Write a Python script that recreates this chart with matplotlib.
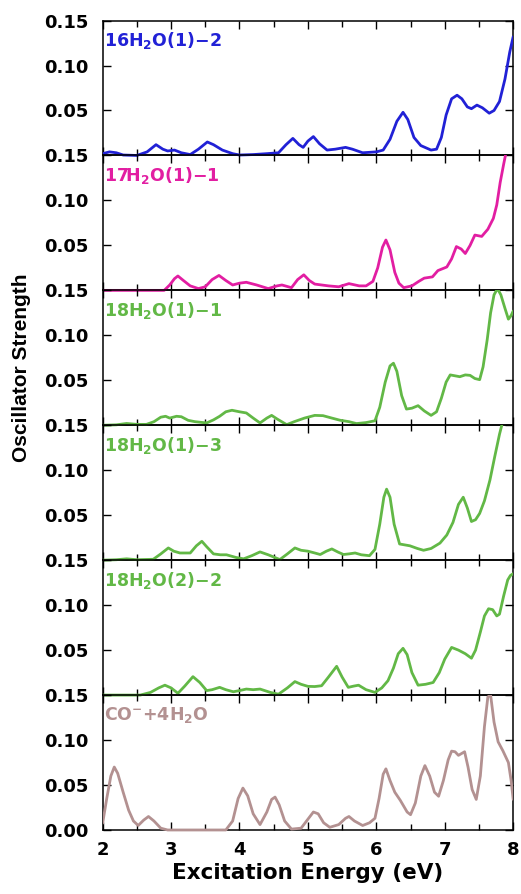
import numpy as np
import matplotlib.pyplot as plt
from matplotlib.ticker import MultipleLocator
from matplotlib.patches import Rectangle

plt.rcParams['font.family'] = ['DejaVu Sans']
plt.rcParams['font.weight'] = 'bold'
plt.rcParams['mathtext.fontset'] = 'custom'
plt.rcParams['mathtext.bf'] = 'DejaVu Sans:bold'
plt.rcParams['mathtext.rm'] = 'DejaVu Sans:bold'
plt.rcParams['mathtext.default'] = 'bf'

# panel labels and colours, top to bottom
labels = [r'16H$_2$O(1)−2', r'17H$_2$O(1)−1', r'18H$_2$O(1)−1',
          r'18H$_2$O(1)−3', r'18H$_2$O(2)−2', r'CO$^{-}$+4H$_2$O']
colors = ['#2121d6', '#e21ea2', '#62b846', '#62b846', '#62b846', '#b39191']

# spectra (energy in eV, oscillator strength)
x1 = [2.0, 2.1, 2.2, 2.3, 2.5, 2.65, 2.78, 2.88, 2.95, 3.05, 3.15, 3.28, 3.4,
      3.53, 3.62, 3.75, 3.9, 4.0, 4.2, 4.4, 4.57, 4.68, 4.78, 4.87, 4.93, 5.0,
      5.08, 5.17, 5.28, 5.4, 5.55, 5.65, 5.8, 6.0, 6.1, 6.2, 6.3, 6.39, 6.46,
      6.55, 6.65, 6.8, 6.88, 6.95, 7.02, 7.1, 7.18, 7.25, 7.33, 7.39, 7.47,
      7.55, 7.65, 7.72, 7.8, 7.88, 7.95, 8.0]
y1 = [0.002, 0.004, 0.003, 0.0005, 0.0, 0.004, 0.012, 0.007, 0.005, 0.006,
      0.003, 0.001, 0.007, 0.015, 0.012, 0.006, 0.002, 0.0005, 0.001, 0.002,
      0.003, 0.012, 0.019, 0.012, 0.009, 0.016, 0.021, 0.013, 0.006, 0.007,
      0.009, 0.007, 0.003, 0.004, 0.006, 0.018, 0.038, 0.048, 0.04, 0.02,
      0.011, 0.006, 0.007, 0.02, 0.045, 0.063, 0.067, 0.063, 0.054, 0.052,
      0.056, 0.053, 0.047, 0.05, 0.06, 0.085, 0.115, 0.132]

x2 = [2.0, 2.9, 2.98, 3.05, 3.1, 3.18, 3.28, 3.4, 3.5, 3.6, 3.7, 3.8, 3.9, 4.0,
      4.1, 4.25, 4.42, 4.55, 4.62, 4.76, 4.85, 4.94, 5.02, 5.1, 5.3, 5.45, 5.6,
      5.75, 5.85, 5.95, 6.02, 6.09, 6.14, 6.2, 6.27, 6.33, 6.4, 6.52, 6.62,
      6.7, 6.82, 6.9, 7.03, 7.1, 7.17, 7.24, 7.3, 7.37, 7.44, 7.54, 7.63, 7.71,
      7.76, 7.81, 7.86, 7.9, 8.0]
y2 = [0.0, 0.0, 0.006, 0.013, 0.016, 0.011, 0.005, 0.002, 0.004, 0.012,
      0.0166, 0.011, 0.006, 0.008, 0.009, 0.006, 0.002, 0.005, 0.006, 0.003,
      0.012, 0.0173, 0.011, 0.007, 0.005, 0.004, 0.0075, 0.005, 0.005, 0.01,
      0.025, 0.048, 0.056, 0.045, 0.02, 0.008, 0.003, 0.005, 0.01, 0.0136,
      0.015, 0.022, 0.026, 0.035, 0.0487, 0.046, 0.041, 0.05, 0.0615, 0.06,
      0.068, 0.08, 0.095, 0.12, 0.14, 0.155, 0.2]

x3 = [2.0, 2.2, 2.35, 2.5, 2.64, 2.75, 2.85, 2.92, 2.98, 3.08, 3.15, 3.25,
      3.35, 3.52, 3.62, 3.71, 3.8, 3.89, 4.0, 4.1, 4.2, 4.3, 4.4, 4.47, 4.55,
      4.69, 4.8, 4.95, 5.1, 5.22, 5.35, 5.47, 5.6, 5.71, 5.85, 5.98, 6.05,
      6.13, 6.2, 6.25, 6.3, 6.37, 6.44, 6.52, 6.61, 6.7, 6.8, 6.88, 6.95, 7.02,
      7.08, 7.15, 7.22, 7.3, 7.37, 7.44, 7.51, 7.56, 7.62, 7.67, 7.72, 7.77,
      7.82, 7.88, 7.93, 7.97, 8.0]
y3 = [0.0, 0.0005, 0.002, 0.001, 0.001, 0.004, 0.009, 0.01, 0.008, 0.01,
      0.0095, 0.0055, 0.004, 0.0026, 0.006, 0.01, 0.015, 0.0167, 0.015,
      0.0137, 0.008, 0.0026, 0.008, 0.011, 0.007, 0.0007, 0.004, 0.008, 0.011,
      0.0107, 0.008, 0.0056, 0.004, 0.0019, 0.003, 0.005, 0.02, 0.048, 0.066,
      0.069, 0.06, 0.033, 0.018, 0.019, 0.0218, 0.016, 0.011, 0.015, 0.03,
      0.048, 0.056, 0.055, 0.054, 0.056, 0.0555, 0.052, 0.0507, 0.065, 0.095,
      0.125, 0.145, 0.152, 0.145, 0.13, 0.118, 0.122, 0.127]

x4 = [2.0, 2.2, 2.35, 2.5, 2.74, 2.85, 2.96, 3.04, 3.13, 3.28, 3.37, 3.45,
      3.52, 3.62, 3.72, 3.81, 3.95, 4.06, 4.18, 4.3, 4.42, 4.59, 4.7, 4.81,
      4.9, 5.0, 5.1, 5.18, 5.27, 5.35, 5.44, 5.52, 5.6, 5.69, 5.78, 5.9, 5.98,
      6.05, 6.11, 6.15, 6.2, 6.26, 6.34, 6.49, 6.6, 6.69, 6.8, 6.93, 7.03,
      7.12, 7.2, 7.27, 7.33, 7.39, 7.45, 7.51, 7.58, 7.66, 7.73, 7.8, 7.85, 8.0]
y4 = [0.0, 0.0005, 0.0015, 0.0005, 0.001, 0.007, 0.0136, 0.01, 0.008, 0.008,
      0.016, 0.021, 0.015, 0.007, 0.006, 0.006, 0.003, 0.0015, 0.005, 0.0092,
      0.006, 0.0007, 0.007, 0.0136, 0.011, 0.01, 0.008, 0.0063, 0.01, 0.0125,
      0.009, 0.0063, 0.007, 0.008, 0.006, 0.005, 0.012, 0.04, 0.07, 0.079,
      0.07, 0.04, 0.018, 0.016, 0.013, 0.011, 0.013, 0.019, 0.028, 0.042,
      0.062, 0.07, 0.058, 0.043, 0.045, 0.052, 0.066, 0.089, 0.115, 0.14,
      0.155, 0.195]

x5 = [2.0, 2.55, 2.7, 2.82, 2.91, 3.0, 3.1, 3.2, 3.32, 3.42, 3.52, 3.6, 3.71,
      3.8, 3.91, 4.0, 4.1, 4.2, 4.3, 4.45, 4.57, 4.7, 4.81, 4.9, 5.0, 5.1, 5.2,
      5.3, 5.42, 5.5, 5.59, 5.67, 5.74, 5.85, 5.98, 6.08, 6.17, 6.25, 6.32,
      6.39, 6.45, 6.52, 6.61, 6.72, 6.83, 6.92, 7.0, 7.1, 7.2, 7.3, 7.39, 7.45,
      7.52, 7.58, 7.64, 7.7, 7.76, 7.8, 7.86, 7.92, 7.96, 8.0]
y5 = [0.0, 0.0, 0.003, 0.008, 0.011, 0.008, 0.002, 0.01, 0.0205, 0.014,
      0.005, 0.006, 0.0086, 0.006, 0.0037, 0.005, 0.0067, 0.006, 0.0067,
      0.003, 0.001, 0.008, 0.015, 0.012, 0.0097, 0.0095, 0.0104, 0.02, 0.032,
      0.02, 0.0086, 0.01, 0.011, 0.006, 0.003, 0.008, 0.016, 0.03, 0.046,
      0.052, 0.045, 0.025, 0.011, 0.012, 0.014, 0.025, 0.04, 0.053, 0.05,
      0.046, 0.041, 0.05, 0.07, 0.088, 0.096, 0.095, 0.088, 0.09, 0.11, 0.128,
      0.133, 0.135]

x6 = [2.0, 2.06, 2.12, 2.17, 2.22, 2.3, 2.38, 2.45, 2.52, 2.6, 2.67, 2.75,
      2.85, 2.95, 3.4, 3.8, 3.9, 3.98, 4.05, 4.12, 4.2, 4.3, 4.4, 4.47, 4.52,
      4.58, 4.66, 4.76, 4.9, 5.0, 5.08, 5.15, 5.23, 5.32, 5.45, 5.55, 5.6,
      5.68, 5.8, 5.9, 5.98, 6.04, 6.1, 6.14, 6.2, 6.27, 6.35, 6.45, 6.5, 6.57,
      6.65, 6.71, 6.78, 6.85, 6.91, 6.98, 7.05, 7.1, 7.15, 7.2, 7.29, 7.34,
      7.4, 7.46, 7.52, 7.58, 7.63, 7.67, 7.72, 7.78, 7.85, 7.93, 7.97, 8.0]
y6 = [0.0075, 0.035, 0.06, 0.07, 0.063, 0.042, 0.022, 0.01, 0.005, 0.011,
      0.015, 0.01, 0.002, 0.0, 0.0, 0.0, 0.01, 0.035, 0.0466, 0.038, 0.018,
      0.006, 0.02, 0.034, 0.0366, 0.028, 0.01, 0.001, 0.002, 0.012, 0.02,
      0.018, 0.008, 0.003, 0.006, 0.013, 0.015, 0.01, 0.005, 0.008, 0.013,
      0.035, 0.062, 0.068, 0.055, 0.042, 0.033, 0.02, 0.017, 0.03, 0.06,
      0.0716, 0.06, 0.042, 0.0375, 0.055, 0.078, 0.0877, 0.087, 0.083, 0.087,
      0.07, 0.045, 0.034, 0.06, 0.115, 0.148, 0.15, 0.12, 0.098, 0.088, 0.075,
      0.055, 0.034]

xs = [x1, x2, x3, x4, x5, x6]
ys = [y1, y2, y3, y4, y5, y6]

fig, axes = plt.subplots(6, 1, sharex=True, figsize=(5.21, 8.94), dpi=100)
fig.subplots_adjust(left=0.197, right=0.985, top=0.977, bottom=0.0716, hspace=0)

for i, ax in enumerate(axes):
    ax.set_facecolor('none')
    line, = ax.plot(xs[i], ys[i], color=colors[i], lw=2.0,
                    solid_joinstyle='round', solid_capstyle='round', zorder=3)
    # let the zero baseline show over the bottom spine, clip at the top
    clip = Rectangle((0, -0.015), 1, 1.015, transform=ax.transAxes,
                     facecolor='none', edgecolor='none')
    line.set_clip_path(clip)
    ax.set_xlim(2, 8)
    ax.set_ylim(0, 0.15)
    if i < 5:
        ax.set_yticks([0.05, 0.10, 0.15])
    else:
        ax.set_yticks([0.0, 0.05, 0.10, 0.15])
    ax.yaxis.set_major_formatter(plt.FormatStrFormatter('%.2f'))
    ax.xaxis.set_major_locator(MultipleLocator(1))
    ax.xaxis.set_minor_locator(MultipleLocator(0.5))
    ax.tick_params(which='both', direction='in', top=True, right=True,
                   labelsize=13, width=1)
    ax.tick_params(which='major', length=6)
    ax.tick_params(which='minor', length=4)
    ax.tick_params(axis='y', pad=10.5)
    for s in ax.spines.values():
        s.set_linewidth(1.1)
    ax.text(0.004, 0.93, labels[i], transform=ax.transAxes, color=colors[i],
            fontsize=12.5, fontweight='bold', va='top', ha='left')

axes[-1].tick_params(axis='x', labelsize=13, pad=8)
axes[-1].set_xlabel('Excitation Energy (eV)', fontsize=15.5, fontweight='bold',
                    labelpad=3)
fig.text(0.042, 0.589, 'Oscillator Strength', rotation=90, fontsize=15,
         fontweight='bold', ha='center', va='center', family='Liberation Sans')

fig.savefig('out.png', dpi=100)
